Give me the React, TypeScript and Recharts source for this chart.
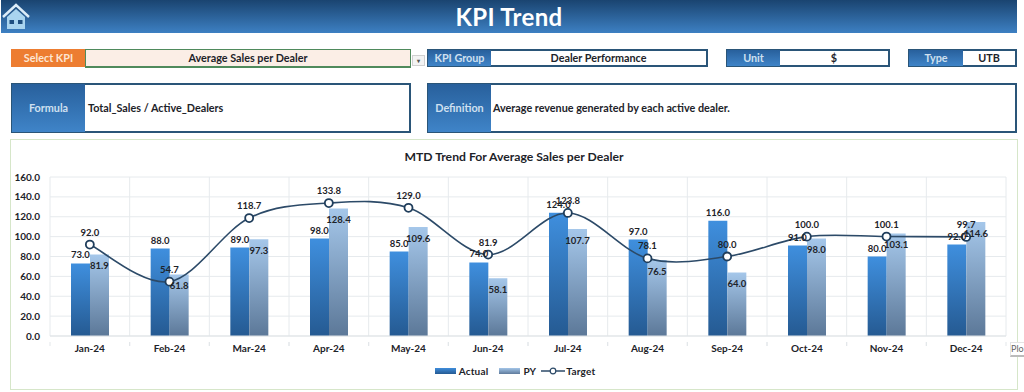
import React from "react"
import { ComposedChart, Bar, Line, XAxis, YAxis, CartesianGrid, Legend, LabelList } from "recharts"

const months = ["Jan-24", "Feb-24", "Mar-24", "Apr-24", "May-24", "Jun-24", "Jul-24", "Aug-24", "Sep-24", "Oct-24", "Nov-24", "Dec-24"]
const actual = [73, 88, 89, 98, 85, 74, 124, 97, 116, 91, 80, 92]
const py = [81.9, 61.8, 97.3, 128.4, 109.6, 58.1, 107.7, 76.5, 64, 98, 103.1, 114.6]
const target = [92, 54.7, 118.7, 133.8, 129, 81.9, 123.8, 78.1, 80, 100, 100.1, 99.7]
const yTicks = [0, 20, 40, 60, 80, 100, 120, 140, 160]

const data = months.map((month, i) => ({ month, actual: actual[i], py: py[i], target: target[i] }))

const FONT = "Lato, sans-serif"
const BLUE_BG = "linear-gradient(180deg, #28609c 0%, #3f84c8 100%)"
const BOX_BORDER = "2px solid #2a5578"
const INK = "#1d2329"
const fmt = (v: number) => Number(v).toFixed(1)

// Excel style smoothing, close to a catmull-rom spline
function smoothCurve(context: any) {
  let pts: [number, number][] = []
  return {
    areaStart() {},
    areaEnd() {},
    lineStart() {
      pts = []
    },
    point(x: number, y: number) {
      pts.push([+x, +y])
    },
    lineEnd() {
      pts.forEach((p, i) => {
        if (i === 0) {
          context.moveTo(p[0], p[1])
          return
        }
        const p0 = pts[Math.max(i - 2, 0)]
        const p1 = pts[i - 1]
        const p3 = pts[Math.min(i + 1, pts.length - 1)]
        context.bezierCurveTo(
          p1[0] + (p[0] - p0[0]) / 6,
          p1[1] + (p[1] - p0[1]) / 6,
          p[0] - (p3[0] - p1[0]) / 6,
          p[1] - (p3[1] - p1[1]) / 6,
          p[0],
          p[1],
        )
      })
    },
  }
}

function Box({ x, y, w, h, style, children }: any) {
  return (
    <div
      style={{
        position: "absolute",
        left: x,
        top: y,
        width: w,
        height: h,
        boxSizing: "border-box",
        display: "flex",
        alignItems: "center",
        justifyContent: "center",
        fontFamily: FONT,
        fontWeight: 700,
        fontSize: 10.8,
        paddingBottom: 1,
        color: INK,
        ...style,
      }}
    >
      {children}
    </div>
  )
}

const blueCell = { background: BLUE_BG, color: "#cfe0f0", border: "1px solid #2a5578" }
const whiteCell = { background: "#fff", border: BOX_BORDER, borderLeft: "none" }

function MonthTick({ x, y, payload, step }: any) {
  return (
    <g>
      <line x1={x - step / 2} x2={x - step / 2} y1={y - 8} y2={y - 4} stroke="#e3e7ea" />
      <line x1={x + step / 2} x2={x + step / 2} y1={y - 8} y2={y - 4} stroke="#e3e7ea" />
      <text x={x} y={y + 2} textAnchor="middle" fontFamily={FONT} fontWeight={700} fontSize={10} fill={INK}>
        {payload.value}
      </text>
    </g>
  )
}

function ChartLegend() {
  const swatch = (bg: string) => <span style={{ width: 21, height: 6, background: bg, display: "inline-block", marginRight: 3 }} />
  return (
    <div style={{ display: "flex", justifyContent: "center", alignItems: "center", height: 12, fontFamily: FONT, fontWeight: 700, fontSize: 10, letterSpacing: 0.2, color: INK, paddingLeft: 6 }}>
      {swatch("linear-gradient(180deg, #3f8ddb, #255a92)")}
      <span style={{ marginRight: 11 }}>Actual</span>
      {swatch("linear-gradient(180deg, #a3c5e8, #5f7b9c)")}
      <span style={{ marginRight: 5 }}>PY</span>
      <svg width={24} height={10} style={{ marginRight: 1 }}>
        <line x1={0} x2={24} y1={5} y2={5} stroke="#2c4a68" strokeWidth={1.5} />
        <circle cx={12} cy={5} r={2.8} fill="#fff" stroke="#2c4a68" strokeWidth={1.2} />
      </svg>
      <span>Target</span>
    </div>
  )
}

const labelStyle = { fontFamily: FONT, fontWeight: 700, fontSize: 9.5, fill: INK }

export default function App() {
  const plotWidth = 956
  const step = plotWidth / months.length
  return (
    <div style={{ position: "absolute", left: 0, top: 0, width: 1024, height: 392, overflow: "hidden", background: "#fff" }}>
      {/* header band */}
      <Box x={1} y={0} w={1016} h={33} style={{ background: "linear-gradient(180deg, #1a4470 0%, #3d80c3 100%)", color: "#fff", fontSize: 24, letterSpacing: 0.3 }}>
        KPI Trend
      </Box>
      <svg width={30} height={30} style={{ position: "absolute", left: 1, top: 2 }}>
        <path d="M2 15 L15 3 L28 15" fill="none" stroke="#dcecf8" strokeWidth={2.4} />
        <path d="M6 15 L15 7 L24 15 V27 H6 Z" fill="#a9d4ef" />
        <rect x={8.5} y={18} width={4.5} height={4} fill="#1f4f80" />
        <rect x={17} y={18} width={4.5} height={4} fill="#1f4f80" />
      </svg>

      {/* selector row */}
      <Box x={11} y={49} w={75} h={18} style={{ background: "#ed7d31", color: "#fde6d3" }}>Select KPI</Box>
      <Box x={85} y={49} w={326} h={19} style={{ background: "#fbeee6", border: "1px solid #4f8a5c", borderBottomWidth: 2 }}>Average Sales per Dealer</Box>
      <Box x={412} y={55} w={13} h={11} style={{ background: "#f3f3f3", border: "1px solid #d0d0d0", fontSize: 6, color: "#555" }}>▾</Box>
      <Box x={427} y={49} w={65} h={18} style={blueCell}>KPI Group</Box>
      <Box x={491} y={49} w={217} h={18} style={whiteCell}>Dealer Performance</Box>
      <Box x={726} y={49} w={55} h={18} style={blueCell}>Unit</Box>
      <Box x={780} y={49} w={110} h={18} style={whiteCell}>$</Box>
      <Box x={908} y={49} w={56} h={18} style={blueCell}>Type</Box>
      <Box x={963} y={49} w={54} h={18} style={whiteCell}>UTB</Box>

      {/* formula row */}
      <Box x={11} y={83} w={75} h={50} style={blueCell}>Formula</Box>
      <Box x={85} y={83} w={326} h={50} style={{ ...whiteCell, justifyContent: "flex-start", paddingLeft: 3 }}>Total_Sales / Active_Dealers</Box>
      <Box x={427} y={83} w={65} h={50} style={blueCell}>Definition</Box>
      <Box x={491} y={83} w={526} h={50} style={{ ...whiteCell, justifyContent: "flex-start", paddingLeft: 2 }}>Average revenue generated by each active dealer.</Box>

      {/* chart frame */}
      <Box x={10} y={139} w={1008} h={251} style={{ border: "1.5px solid #d6e6c9" }} />
      <Box x={340} y={148} w={348} h={18} style={{ fontSize: 12.2 }}>MTD Trend For Average Sales per Dealer</Box>

      <div style={{ position: "absolute", left: 0, top: -1 }}>
        <ComposedChart
          width={1024}
          height={392}
          data={data}
          barSize={19}
          barGap={0}
          margin={{ top: 178, right: 18, bottom: 0, left: 0 }}
        >
          <defs>
            <linearGradient id="actualFill" x1="0" y1="0" x2="0" y2="1">
              <stop offset="0%" stopColor="#3f8fde" />
              <stop offset="100%" stopColor="#255a92" />
            </linearGradient>
            <linearGradient id="pyFill" x1="0" y1="0" x2="0" y2="1">
              <stop offset="0%" stopColor="#a5c7ea" />
              <stop offset="100%" stopColor="#5c7898" />
            </linearGradient>
          </defs>
          <CartesianGrid
            stroke="#e6eaed"
            verticalCoordinatesGenerator={({ offset }: any) => months.map((_, i) => offset.left + i * step).concat(offset.left + plotWidth)}
          />
          <XAxis
            dataKey="month"
            height={43}
            interval={0}
            axisLine={{ stroke: "#dfe3e6" }}
            tickLine={false}
            tick={<MonthTick step={step} />}
            tickMargin={8}
          />
          <YAxis
            width={50}
            domain={[0, 160]}
            ticks={yTicks}
            interval={0}
            axisLine={false}
            tickLine={false}
            tickMargin={4}
            tickFormatter={fmt}
            tick={{ fontFamily: FONT, fontWeight: 700, fontSize: 10, fill: INK }}
          />
          <Legend verticalAlign="bottom" content={<ChartLegend />} wrapperStyle={{ left: 0, width: 1024, bottom: 14 }} />
          <Bar dataKey="actual" name="Actual" fill="url(#actualFill)" isAnimationActive={false}>
            <LabelList dataKey="actual" position="top" offset={5} formatter={fmt} style={labelStyle} />
          </Bar>
          <Bar dataKey="py" name="PY" fill="url(#pyFill)" isAnimationActive={false}>
            <LabelList dataKey="py" position="insideTop" offset={8} formatter={fmt} style={labelStyle} />
          </Bar>
          <Line
            dataKey="target"
            name="Target"
            type={smoothCurve as any}
            stroke="#2c4a68"
            strokeWidth={1.6}
            dot={{ r: 4, fill: "#fff", stroke: "#1f3d5b", strokeWidth: 1.8 }}
            isAnimationActive={false}
          >
            <LabelList dataKey="target" position="top" offset={9} formatter={fmt} style={labelStyle} />
          </Line>
        </ComposedChart>
      </div>

      {/* stray tooltip in the screenshot */}
      <Box x={1010} y={342} w={14} h={15} style={{ background: "#fff", border: "1px solid #e4e4e4", borderRight: "none", borderBottom: "2px solid #bbb", fontWeight: 400, fontSize: 9, color: "#666", justifyContent: "flex-start", paddingLeft: 0 }}>
        Plo
      </Box>
    </div>
  )
}
